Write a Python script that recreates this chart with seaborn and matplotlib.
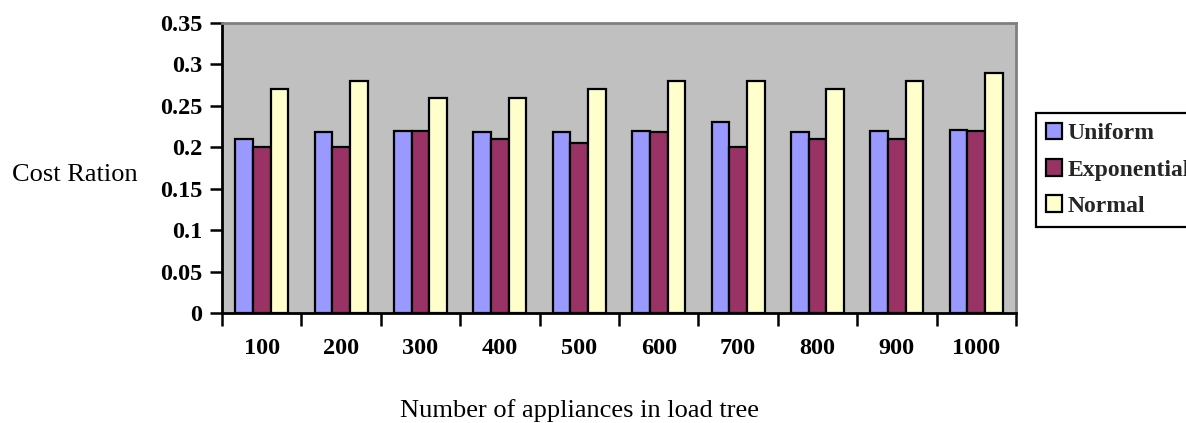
import matplotlib
matplotlib.use("Agg")
import matplotlib.pyplot as plt
import pandas as pd
import seaborn as sns
from matplotlib.ticker import FixedLocator, NullFormatter

appliances = ["100", "200", "300", "400", "500", "600", "700", "800", "900", "1000"]
uniform = [0.21, 0.218, 0.22, 0.218, 0.218, 0.22, 0.23, 0.218, 0.22, 0.221]
exponential = [0.20, 0.20, 0.22, 0.21, 0.205, 0.218, 0.20, 0.21, 0.21, 0.22]
normal = [0.27, 0.28, 0.26, 0.26, 0.27, 0.28, 0.28, 0.27, 0.28, 0.29]
series = ["Uniform", "Exponential", "Normal"]
colors = ["#9999FF", "#993366", "#FFFFCC"]

df = pd.DataFrame({
    "Appliances": appliances * 3,
    "Distribution": [s for s in series for _ in appliances],
    "Cost": uniform + exponential + normal,
})

sns.set_theme(style="white")
plt.rcParams["font.family"] = ["Liberation Serif", "DejaVu Serif"]

fig = plt.figure(figsize=(11.86, 4.23), dpi=100)
ax = fig.add_axes([222 / 1186, 1 - 313 / 423, (1016 - 222) / 1186, (313 - 23) / 423])
ax.set_facecolor("#C0C0C0")

sns.barplot(
    data=df, x="Appliances", y="Cost", hue="Distribution",
    order=appliances, hue_order=series, palette=colors,
    width=0.67, edgecolor="black", linewidth=1.6, saturation=1, ax=ax,
)

ax.set_xlim(-0.5, len(appliances) - 0.5)
ax.set_ylim(0, 0.35)
ax.set_yticks([0, 0.05, 0.1, 0.15, 0.2, 0.25, 0.3, 0.35])
ax.set_yticklabels(["0", "0.05", "0.1", "0.15", "0.2", "0.25", "0.3", "0.35"])

# ticks sit on category boundaries, labels at centres
ax.xaxis.set_minor_locator(FixedLocator([i - 0.5 for i in range(len(appliances) + 1)]))
ax.xaxis.set_minor_formatter(NullFormatter())
ax.tick_params(axis="x", which="major", length=0, pad=18, labelsize=17.5)
ax.tick_params(axis="x", which="minor", bottom=True, length=9, width=1.8, color="black", direction="out")
ax.tick_params(axis="y", left=True, length=9, width=1.8, color="black", direction="out", pad=5, labelsize=17.5)
for lbl in ax.get_xticklabels() + ax.get_yticklabels():
    lbl.set_fontweight("bold")
    lbl.set_color("black")

for side in ["left", "bottom"]:
    ax.spines[side].set_color("black")
    ax.spines[side].set_linewidth(2)
for side in ["top", "right"]:
    ax.spines[side].set_color("#808080")
    ax.spines[side].set_linewidth(2)
    ax.spines[side].set_visible(True)

ax.set_xlabel("")
ax.set_ylabel("")
fig.text(75 / 1186, 1 - 175 / 423, "Cost Ration", ha="center", va="center", fontsize=19, color="black")
fig.text(580 / 1186, 1 - 411 / 423, "Number of appliances in load tree", ha="center", va="center",
         fontsize=19, color="black")

handles, labels = ax.get_legend_handles_labels()
ax.get_legend().remove()
leg = fig.legend(
    handles, labels, loc="upper left", bbox_to_anchor=(1036 / 1186, 1 - 113 / 423),
    frameon=True, fancybox=False, edgecolor="black", framealpha=1,
    prop={"weight": "bold", "size": 17}, handlelength=0.7, handleheight=0.7,
    handletextpad=0.2, labelspacing=0.62, borderpad=0.42, borderaxespad=0,
)
leg.get_frame().set_linewidth(1.6)

fig.savefig("out.png", dpi=100)
